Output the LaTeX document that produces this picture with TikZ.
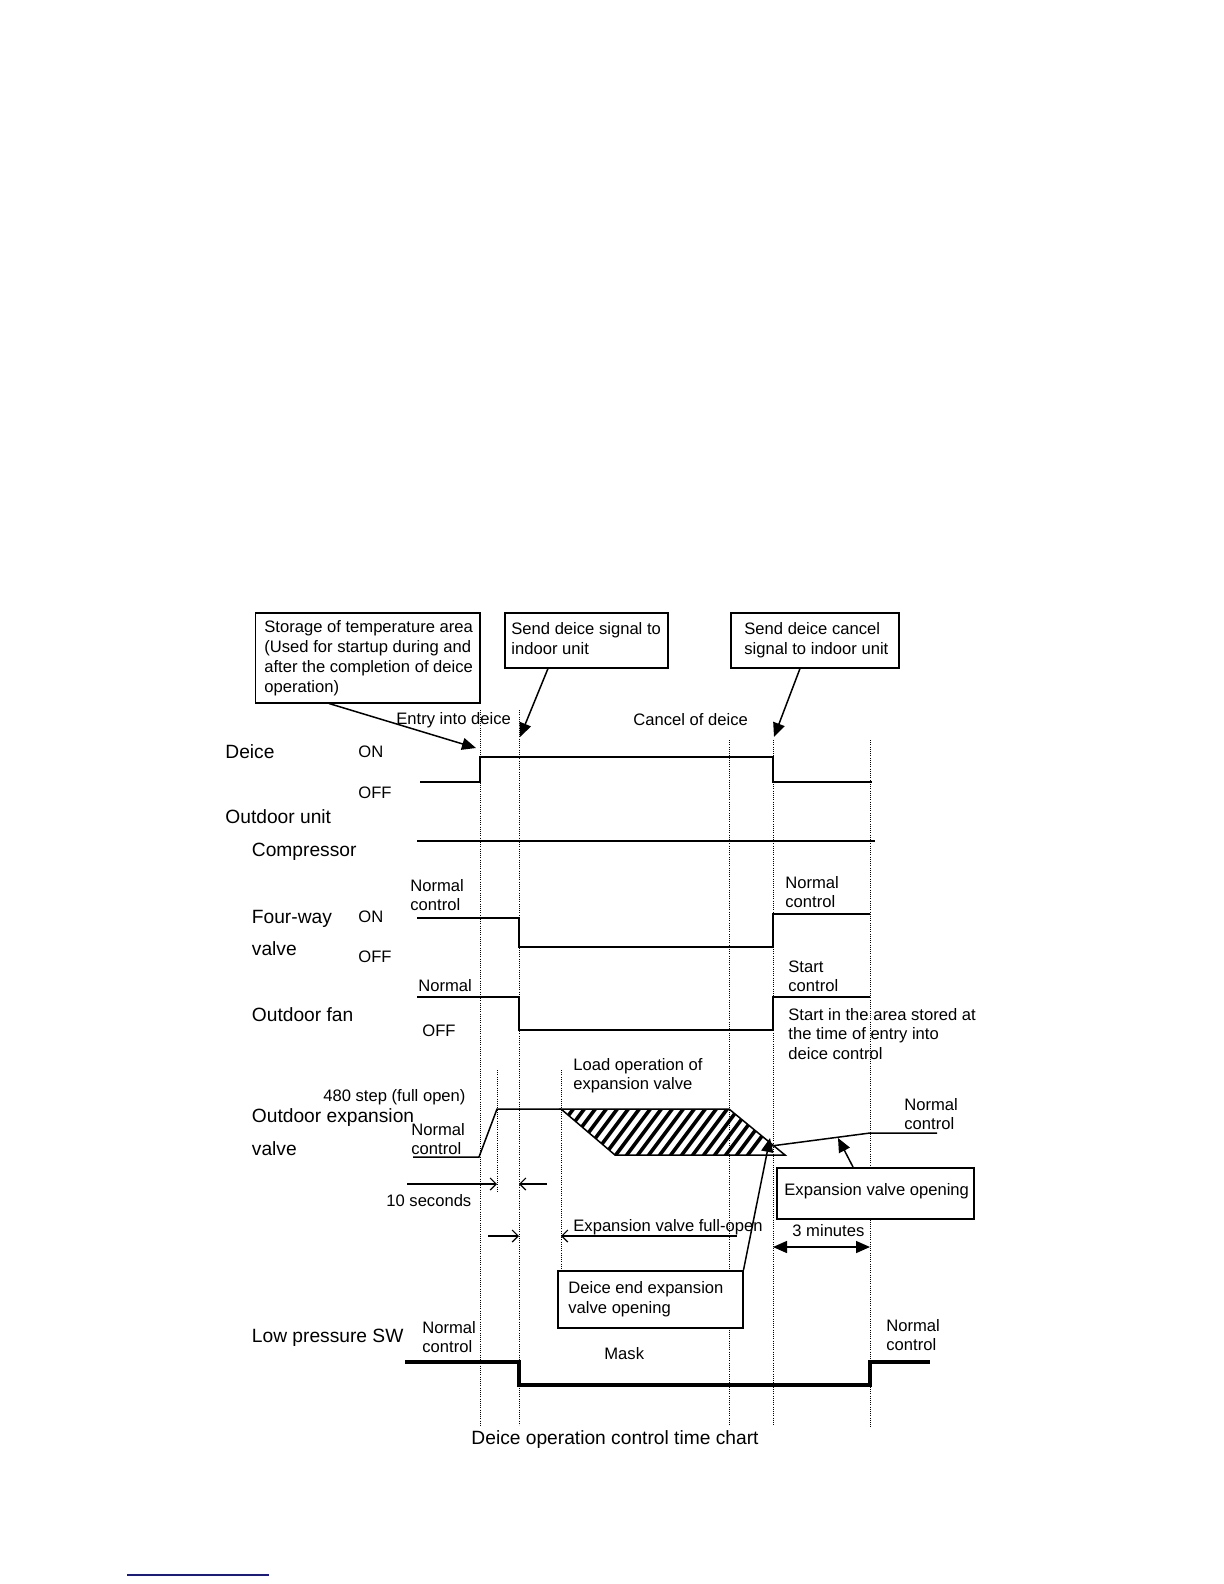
\documentclass[tikz,border=0pt]{standalone}
\usepackage{fontspec}
\setmainfont{Liberation Sans}
\usetikzlibrary{arrows.meta,calc}
\definecolor{rulecol}{RGB}{25,25,140}
\begin{document}
\begin{tikzpicture}[x=0.5pt,y=-0.5pt,
  sig/.style={line width=0.75pt},
  lpsig/.style={line width=1.75pt},
  guide/.style={line width=0.5pt, dash pattern=on 0.5pt off 0.6pt},
  small/.style={font=\fontsize{8.3}{9.75}\selectfont, inner sep=0, anchor=base west},
  smallml/.style={font=\fontsize{8.3}{9.75}\selectfont, inner sep=0, anchor=north west, align=left},
  big/.style={font=\fontsize{9.6}{11}\selectfont, inner sep=0, anchor=base west},
  callout/.style={draw, fill=white, line width=0.75pt, inner sep=0, anchor=north west},
  boxtxt/.style={font=\fontsize{8.3}{10}\selectfont, inner sep=0, anchor=west, align=left},
  ptr/.style={line width=0.75pt, -{Triangle[length=7pt,width=6pt]}},
  dimarrow/.style={line width=0.6pt, -{Straight Barb[length=3pt,width=6pt]}},
  bigdim/.style={line width=0.75pt, {Triangle[length=7pt,width=6pt]}-{Triangle[length=7pt,width=6pt]}},
]
\useasboundingbox (0,0) rectangle (1224,1584);

% ---------- guide lines ----------
\draw[guide] (480,710) -- (480,1427);
\draw[guide] (519,710) -- (519,1425);
\draw[guide] (729,740) -- (729,1425);
\draw[guide] (773,740) -- (773,1425);
\draw[guide] (870,740) -- (870,1428);
\draw[guide] (497,1070) -- (497,1193);
\draw[guide] (561,1070) -- (561,1270);

% ---------- callout boxes ----------
\node[callout, minimum width=112.25pt, minimum height=45pt] (b1) at (254.5,612) {};
\node[boxtxt] (t1) at ($(b1.west)+(9.5,0)$) {Storage of temperature area\\(Used for startup during and\\after the completion of deice\\operation)};
\node[callout, minimum width=81.5pt, minimum height=27.5pt] (b2) at (504,612) {};
\node[boxtxt] (t2) at ($(b2.west)+(7,-2)$) {Send deice signal to\\indoor unit};
\node[callout, minimum width=84pt, minimum height=27.5pt] (b3) at (730,612) {};
\node[boxtxt] (t3) at ($(b3.west)+(14,0)$) {Send deice cancel\\signal to indoor unit};
\node[callout, minimum width=98.5pt, minimum height=25.5pt] (b4) at (776,1167) {};
\node[boxtxt] (t4) at ($(b4.west)+(8,-2)$) {Expansion valve opening};
\node[callout, minimum width=92.5pt, minimum height=28.5pt] (b5) at (557,1270) {};
\node[boxtxt] (t5) at ($(b5.west)+(11,0)$) {Deice end expansion\\valve opening};

% ---------- signal lines ----------
\draw[sig] (420,782) -- (480,782) -- (480,757) -- (773,757) -- (773,782) -- (872,782);
\draw[sig] (417,841) -- (875,841);
\draw[sig] (417,918) -- (519,918) -- (519,947) -- (773,947) -- (773,914) -- (870,914);
\draw[sig] (417,997) -- (519,997) -- (519,1030) -- (773,1030) -- (773,997) -- (870,997);
\draw[sig] (413,1157) -- (479,1157) -- (497,1109) -- (561,1109);
% hatched load operation area
\begin{scope}
  \clip (561,1109) -- (729,1109) -- (785,1155) -- (615,1155) -- cycle;
  \foreach \x in {480,491,...,752}
    \draw[line width=1.8pt] (\x,1160) -- ++(42,-56);
\end{scope}
\draw[sig] (561,1109) -- (729,1109) -- (785,1155) -- (615,1155) -- cycle;
\draw[sig] (771,1146) -- (870,1133) -- (937,1133);
\draw[lpsig] (405,1362) -- (519,1362) -- (519,1385) -- (870,1385) -- (870,1362) -- (930,1362);

% ---------- pointer arrows ----------
\coordinate (p1) at (476,748);
\coordinate (p2) at (520,737);
\coordinate (p3) at (774,737);
\coordinate (p4) at (838,1138);
\coordinate (p5) at (770,1138);
\draw[ptr] ($(b1.south west)+(74.5,0)$) -- (p1);
\draw[ptr] ($(b2.south west)+(44,0)$) -- (p2);
\draw[ptr] ($(b3.south west)+(70,0)$) -- (p3);
\draw[ptr] ($(b4.north west)+(77,0)$) -- (p4);
\draw[ptr] (b5.north east) -- (p5);

% ---------- dimension arrows ----------
\coordinate (d1a) at (407,1184); \coordinate (d1b) at (497,1184);
\coordinate (d2a) at (547,1184); \coordinate (d2b) at (519,1184);
\coordinate (d3a) at (488,1236); \coordinate (d3b) at (519,1236);
\coordinate (d4a) at (737,1236); \coordinate (d4b) at (561,1236);
\coordinate (d5a) at (773,1247); \coordinate (d5b) at (870,1247);
\draw[dimarrow] (d1a) -- (d1b);
\draw[dimarrow] (d2a) -- (d2b);
\draw[dimarrow] (d3a) -- (d3b);
\draw[dimarrow] (d4a) -- (d4b);
\draw[bigdim] (d5a) -- (d5b);

% ---------- labels ----------
\node[small] (l1) at (396,724) {Entry into deice};
\node[small] (l2) at (633,725) {Cancel of deice};
\node[small] (l3) at (358,757) {ON};
\node[small] (l4) at (358,798) {OFF};
\node[small] (l5) at (358,922) {ON};
\node[small] (l6) at (358,962) {OFF};
\node[small] (l7) at (418,991) {Normal};
\node[small] (l8) at (422,1036) {OFF};
\node[small] (l9) at (323,1101) {480 step (full open)};
\node[small] (l10) at (386,1206) {10 seconds};
\node[small] (l11) at (573,1231) {Expansion valve full-open};
\node[small] (l12) at (792,1236) {3 minutes};
\node[small] (l13) at (604,1359) {Mask};

\node[smallml] (m1) at (410,879) {Normal\\control};
\node[smallml] (m2) at (785,876) {Normal\\control};
\node[smallml] (m3) at (788,960) {Start\\control};
\node[smallml] (m4) at (788,1008) {Start in the area stored at\\the time of entry into\\deice control};
\node[smallml] (m5) at (573,1058) {Load operation of\\expansion valve};
\node[smallml] (m6) at (411,1123) {Normal\\control};
\node[smallml] (m7) at (904,1098) {Normal\\control};
\node[smallml] (m8) at (422,1321) {Normal\\control};
\node[smallml] (m9) at (886,1319) {Normal\\control};

\node[big] (n1) at (225,758) {Deice};
\node[big] (n2) at (225,823) {Outdoor unit};
\node[big] (n3) at (251.5,856) {Compressor};
\node[big] (n4) at (251.5,923) {Four-way};
\node[big] (n5) at (251.5,955) {valve};
\node[big] (n6) at (251.5,1021) {Outdoor fan};
\node[big] (n7) at (251.5,1122) {Outdoor expansion};
\node[big] (n8) at (251.5,1155) {valve};
\node[big] (n9) at (251.5,1342) {Low pressure SW};
\node[big, anchor=base] (title) at (615,1444) {Deice operation control time chart};

% ---------- footnote rule ----------
\draw[rulecol, line width=1pt] (127,1575) -- (269,1575);
\end{tikzpicture}
\end{document}
